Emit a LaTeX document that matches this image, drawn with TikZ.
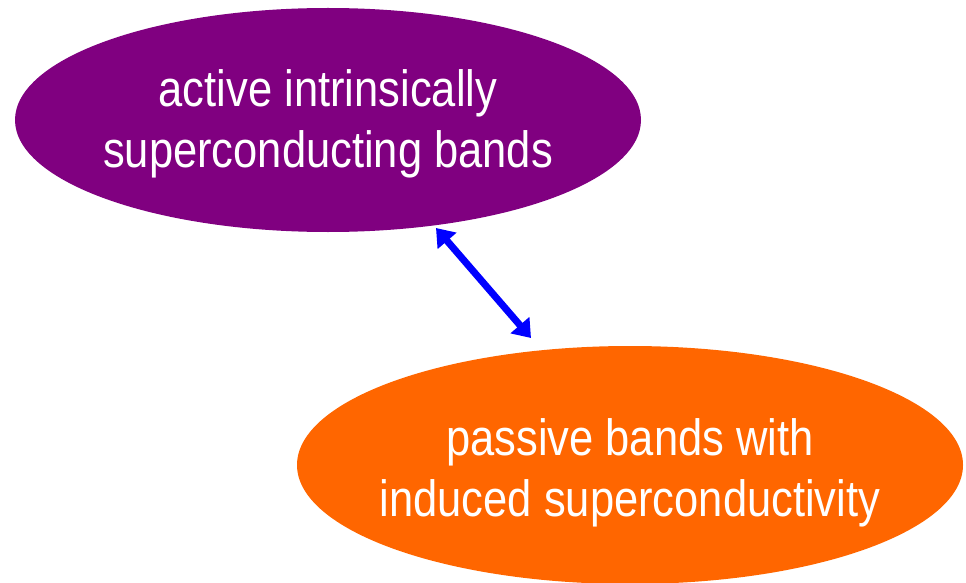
\documentclass[tikz,border=0pt]{standalone}
\usepackage{fontspec}
\setmainfont[FakeStretch=0.853]{Liberation Sans}
\usetikzlibrary{shapes.geometric,arrows.meta}
\definecolor{bandpurple}{HTML}{800080}
\definecolor{bandorange}{HTML}{FF6600}
\definecolor{linkblue}{HTML}{0000FF}
\tikzset{
  band/.style={ellipse, draw=none, inner sep=0pt},
  bandtext/.style={anchor=base, inner sep=0pt, text=white,
    font=\fontsize{51}{60}\selectfont},
  coupling/.style={linkblue, line width=7pt,
    {Triangle[length=17pt,width=24pt]}-{Triangle[length=17pt,width=24pt]}}
}
\begin{document}
\begin{tikzpicture}[x=1pt,y=-1pt]
  \useasboundingbox (0,0) rectangle (966,583);
  \clip (0,0) rectangle (966,583);
  % the two groups of bands
  \node[band, fill=bandpurple, minimum width=626pt, minimum height=224pt]
    (active) at (328,120) {};
  \node[band, fill=bandorange, minimum width=666pt, minimum height=238pt]
    (passive) at (630,465) {};
  % their labels, one node per line, set on the baseline
  \node[bandtext] (activeA) at (328,106.7) {active intrinsically};
  \node[bandtext] (activeB) at (328,167.2) {superconducting bands};
  \node[bandtext] (passiveA) at (630,455.5) {passive bands with};
  \node[bandtext] (passiveB) at (630,516) {induced superconductivity};
  % coupling between them
  \coordinate (upper) at (436,228);
  \coordinate (lower) at (531,338);
  \draw[coupling] (upper) -- (lower);
\end{tikzpicture}
\end{document}
